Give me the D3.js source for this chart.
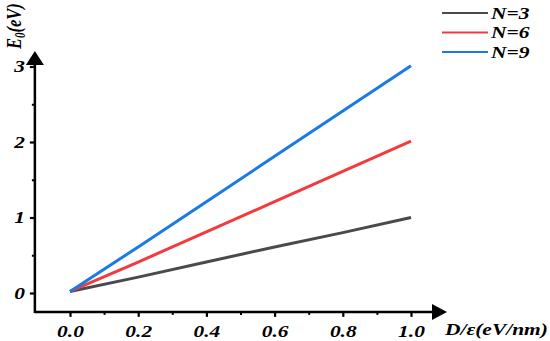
<!DOCTYPE html>
<html>
<head>
<meta charset="utf-8">
<script src="https://cdn.jsdelivr.net/npm/d3@7"></script>
<style>
  body { margin: 0; background: #fff; }
  svg text { font-family: "Liberation Serif", "Times New Roman", Times, "DejaVu Serif", serif !important; font-weight: bold; font-style: italic; }
</style>
</head>
<body>
<svg width="550" height="341"></svg>
<script>
var svg = d3.select("svg");

// field strength D/eps (eV/nm)
var fieldX = [0.0, 0.2, 0.4, 0.6, 0.8, 1.0];
var n3 = [0.02, 0.21, 0.41, 0.61, 0.80, 1.00];
var n6 = [0.02, 0.41, 0.81, 1.21, 1.61, 2.01];
var n9 = [0.02, 0.61, 1.21, 1.81, 2.41, 3.01];
var seriesNames = ["N=3", "N=6", "N=9"];
var seriesColors = ["#4a4a4a", "#f23b3e", "#1a7ae6"];
var xTicks = [0.0, 0.2, 0.4, 0.6, 0.8, 1.0];
var yTicks = [0, 1, 2, 3];

var series = [n3, n6, n9];
var stretch = 1.3; // the picture's text is stretched sideways
var fs = "16.5px";

var x = d3.scaleLinear().domain([0, 1]).range([70, 411]);
var y = d3.scaleLinear().domain([0, 3]).range([293, 66.5]);

var x0 = x(-0.103), y0 = y(-0.25);

// axes lines with arrow heads
svg.append("line").attr("x1", x0).attr("x2", 434).attr("y1", y0).attr("y2", y0)
    .attr("stroke", "#000").attr("stroke-width", 2.5);
svg.append("path").attr("d", "M432," + (y0 - 8) + "L447," + y0 + "L432," + (y0 + 8) + "Z").attr("fill", "#000");
svg.append("line").attr("x1", x0).attr("x2", x0).attr("y1", y0 + 1.2).attr("y2", 62)
    .attr("stroke", "#000").attr("stroke-width", 2.5);
svg.append("path").attr("d", "M" + (x0 - 9) + ",65L" + x0 + ",51L" + (x0 + 9) + ",65Z").attr("fill", "#000");

var xAxis = svg.append("g").attr("transform", "translate(0," + y0 + ")")
    .call(d3.axisBottom(x).tickValues(xTicks).tickFormat(d3.format(".1f")).tickSize(5).tickPadding(8));
xAxis.attr("font-family", null);
xAxis.select(".domain").remove();
xAxis.selectAll("line").attr("stroke-width", 2.2);
xAxis.selectAll("text").attr("transform", "scale(" + stretch + ",1)")
    .style("font-size", fs).attr("fill", "#000");

var xMinor = svg.append("g").attr("transform", "translate(0," + y0 + ")")
    .call(d3.axisBottom(x).tickValues([0.1, 0.3, 0.5, 0.7, 0.9]).tickFormat("").tickSize(3));
xMinor.select(".domain").remove();
xMinor.selectAll("line").attr("stroke-width", 2);

var yAxis = svg.append("g").attr("transform", "translate(" + x0 + ",0)")
    .call(d3.axisLeft(y).tickValues(yTicks).tickFormat(d3.format("d")).tickSize(5));
yAxis.attr("font-family", null);
yAxis.select(".domain").remove();
yAxis.selectAll("line").attr("stroke-width", 2.2);
yAxis.selectAll("text").attr("x", -10 / stretch).attr("transform", "scale(" + stretch + ",1)")
    .style("font-size", fs).attr("fill", "#000");

var yMinor = svg.append("g").attr("transform", "translate(" + x0 + ",0)")
    .call(d3.axisLeft(y).tickValues([0.5, 1.5, 2.5]).tickFormat("").tickSize(3));
yMinor.select(".domain").remove();
yMinor.selectAll("line").attr("stroke-width", 2);

// axis titles
svg.append("text").attr("transform", "translate(445,335) scale(" + stretch + ",1)")
    .style("font-size", fs).text("D/\u03b5(eV/nm)");

var yt = svg.append("text").attr("transform", "translate(21,49) rotate(-90) scale(1," + stretch + ")")
    .style("font-size", fs);
yt.append("tspan").text("E");
yt.append("tspan").attr("dy", 3).style("font-size", "11px").text("0");
yt.append("tspan").attr("dy", -3).text("(eV)");

// lines
var line = d3.line().x(function(d, i) { return x(fieldX[i]); }).y(function(d) { return y(d); });
svg.selectAll(".series").data(series).enter().append("path")
    .attr("class", "series")
    .attr("d", line)
    .attr("fill", "none")
    .attr("stroke", function(d, i) { return seriesColors[i]; })
    .attr("stroke-width", 3);

// legend
var legend = svg.selectAll(".legend").data(seriesNames).enter().append("g")
    .attr("class", "legend")
    .attr("transform", function(d, i) { return "translate(442," + (13 + i * 19.5) + ")"; });
legend.append("line").attr("x1", 0).attr("x2", 46)
    .attr("stroke", function(d, i) { return seriesColors[i]; }).attr("stroke-width", 2);
legend.append("text").attr("transform", "translate(49,5.5) scale(" + stretch + ",1)")
    .style("font-size", fs).text(function(d) { return d; });
</script>
</body>
</html>
